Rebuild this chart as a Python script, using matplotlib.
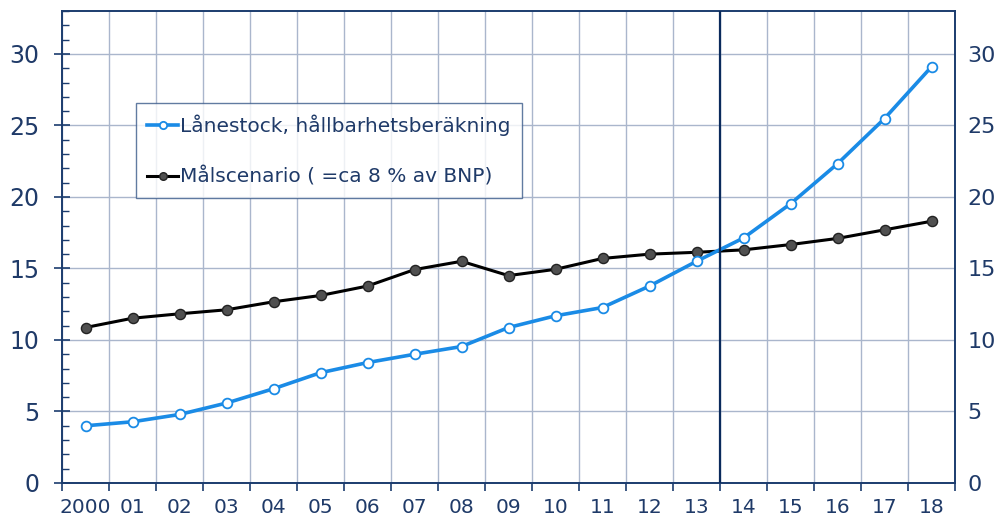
import matplotlib
matplotlib.use("Agg")
import matplotlib.pyplot as plt
from matplotlib.ticker import MultipleLocator, FixedLocator

categories = ["2000", "01", "02", "03", "04", "05", "06", "07", "08", "09",
              "10", "11", "12", "13", "14", "15", "16", "17", "18"]
lanestock = [4.0, 4.28, 4.79, 5.59, 6.59, 7.71, 8.42, 9.0, 9.54, 10.87,
             11.69, 12.27, 13.77, 15.5, 17.13, 19.52, 22.32, 25.48, 29.1]
malscenario = [10.87, 11.52, 11.83, 12.11, 12.67, 13.11, 13.77, 14.92, 15.5, 14.5,
               14.94, 15.7, 16.0, 16.13, 16.3, 16.67, 17.1, 17.7, 18.3]
label_lane = "Lånestock, hållbarhetsberäkning"
label_mal = "Målscenario ( =ca 8 % av BNP)"
y_ticks = [0, 5, 10, 15, 20, 25, 30]

navy = "#1b3c6e"
text_c = "#1f3a68"
grid_c = "#aab6cc"
blue = "#1a8be6"

plt.rcParams['font.family'] = ['DejaVu Sans']

fig = plt.figure(figsize=(9.97, 5.17), dpi=100)
ax = fig.add_axes([62/997, 1-483/517, (955-62)/997, (483-11)/517])

x = list(range(len(categories)))
ax.set_xlim(-0.5, len(categories) - 0.5)
ax.set_ylim(0, 33)

ax.plot(x, lanestock, color=blue, lw=2.6, marker='o', ms=7, mfc='white',
        mec=blue, mew=1.3, label=label_lane, zorder=4)
ax.plot(x, malscenario, color='black', lw=2.2, marker='o', ms=7.3, mfc='#505050',
        mec='#222222', mew=1.0, label=label_mal, zorder=3)

ax.axvline(13.5, color="#0a2a5c", lw=1.6, zorder=5)

# x ticks
ax.xaxis.set_major_locator(FixedLocator(x))
ax.set_xticklabels(categories)
ax.xaxis.set_minor_locator(FixedLocator([i - 0.5 for i in range(len(categories) + 1)]))
ax.tick_params(axis='x', which='major', length=0, pad=11, labelsize=14.5, labelcolor=text_c)
ax.tick_params(axis='x', which='minor', length=6, width=1.2, direction='out', color=navy)

# y ticks
ax.set_yticks(y_ticks)
ax.yaxis.set_minor_locator(MultipleLocator(1))
ax.tick_params(axis='y', which='major', direction='inout', length=11, width=1.2,
               color=navy, labelsize=17, labelcolor=text_c, pad=11)
ax.tick_params(axis='y', which='minor', direction='in', length=5, width=1.0, color=navy)

ax.grid(True, axis='y', which='major', color=grid_c, lw=1.0, zorder=0)
ax.grid(True, axis='x', which='minor', color=grid_c, lw=1.0, zorder=0)
ax.set_axisbelow(True)

for s in ax.spines.values():
    s.set_color(navy)
    s.set_linewidth(1.4)

ax2 = ax.twinx()
ax2.set_ylim(ax.get_ylim())
ax2.set_yticks(y_ticks)
ax2.tick_params(axis='y', length=0, pad=9, labelsize=16, labelcolor=text_c)
for s in ax2.spines.values():
    s.set_visible(False)

leg = ax.legend(loc='upper left', bbox_to_anchor=(136/997, 1-103/517),
                bbox_transform=fig.transFigure, fontsize=14.5, frameon=True,
                fancybox=False, edgecolor="#3a5a8a", labelspacing=1.55,
                handlelength=1.55, handletextpad=0.1, borderpad=0.55,
                borderaxespad=0, markerscale=0.75)
leg.get_frame().set_linewidth(1.0)
for t in leg.get_texts():
    t.set_color(text_c)

fig.savefig("out.png", dpi=100)
